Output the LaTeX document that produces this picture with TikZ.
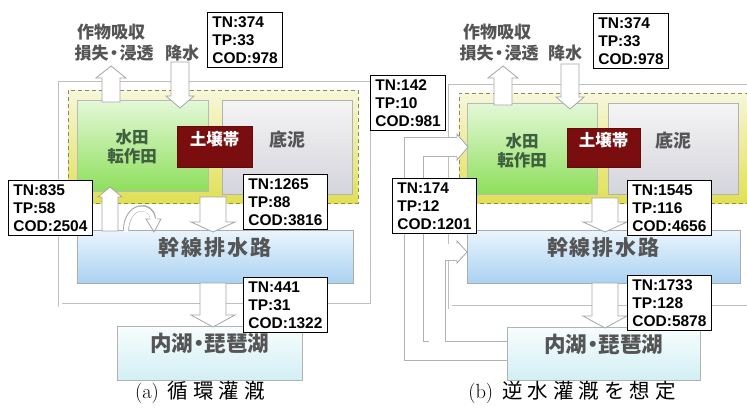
\documentclass[tikz,border=0pt]{standalone}
\usepackage{fontspec}
\newfontfamily\lsans{Liberation Sans}
\newfontfamily\jp{Noto Sans CJK JP}
\usetikzlibrary{fit}
\definecolor{ylo}{HTML}{F7F7DC}
\definecolor{yhi}{HTML}{E0E055}
\definecolor{gtop}{HTML}{E4F8D8}
\definecolor{gbot}{HTML}{8EDF5C}
\definecolor{stop}{HTML}{F5F5F5}
\definecolor{sbot}{HTML}{D4D4DC}
\definecolor{btop}{HTML}{EBF5FD}
\definecolor{bbot}{HTML}{AAD2F2}
\definecolor{ltop}{HTML}{F8FDFD}
\definecolor{lbot}{HTML}{D2EFF4}
\definecolor{soilred}{HTML}{7A0E0E}
\definecolor{txtgray}{HTML}{555555}
\definecolor{txtgreen}{HTML}{3F5F3F}
\newcommand{\blkarrow}[6]{%
  \pgfmathsetmacro{\bhb}{#3-sign(#3-#2)*#6}%
  \filldraw[barrow] (#1-#4,#2) -- (#1-#4,\bhb) -- (#1-#5,\bhb) -- (#1,#3) -- (#1+#5,\bhb) -- (#1+#4,\bhb) -- (#1+#4,#2) -- cycle;}
\begin{document}
\begin{tikzpicture}[x=1pt,y=-1pt,
  tnbox/.style={draw=black, line width=0.8pt, fill=white, align=left, anchor=north west,
    inner xsep=5pt, inner ysep=4pt, font=\lsans\bfseries\fontsize{15.5}{18}\selectfont},
  frame/.style={draw=gray!50, double=white, double distance=3pt, line width=0.7pt},
  yreg/.style={draw=gray!55!olive, dash pattern=on 4pt off 3pt, line width=1pt, top color=ylo, bottom color=yhi, inner sep=0pt},
  greenbox/.style={draw=gray!55, line width=0.8pt, top color=gtop, bottom color=gbot, inner sep=0pt},
  sedbox/.style={draw=gray!60, line width=0.8pt, top color=stop, bottom color=sbot, inner sep=0pt, text=txtgray, font=\jp\bfseries\fontsize{18}{20}\selectfont},
  soilbox/.style={draw=soilred!80!black, line width=0.6pt, fill=soilred, inner sep=0pt, text=white, font=\jp\bfseries\fontsize{16.5}{18}\selectfont},
  canalbox/.style={draw=gray!65, line width=0.8pt, top color=btop, bottom color=bbot, inner sep=0pt, text=txtgray, font=\jp\bfseries\fontsize{21}{24}\selectfont},
  lakebox/.style={draw=gray!60, line width=0.8pt, top color=ltop, bottom color=lbot, inner sep=0pt, text=txtgray, font=\jp\bfseries\fontsize{21.5}{24}\selectfont},
  toplab/.style={text=txtgray, font=\jp\bfseries\fontsize{17}{18}\selectfont, inner sep=0pt},
  fieldlab/.style={text=txtgreen, font=\jp\bfseries\fontsize{16.5}{18}\selectfont, inner sep=0pt},
  barrow/.style={draw=gray!70, fill=white, line width=0.8pt, line join=miter},
  pipeout/.style={draw=gray!60, line width=20pt, line join=miter},
  pipein/.style={draw=white, line width=18.4pt, line join=miter},
  pipeoutb/.style={draw=gray!60, line width=17pt, line join=miter},
  pipeinb/.style={draw=white, line width=15.4pt, line join=miter},
  caption/.style={font=\fontsize{20.5}{23}\selectfont, inner sep=0pt, text=black}
]
\useasboundingbox (0,0) rectangle (747,410);
\fill[white] (0,0) rectangle (747,410);

% ================= (a) =================
\draw[frame] (60,83) rectangle (372,305);
\node[yreg, fit={(68,90) (358,203)}] (ya) {};
\node[greenbox, fit={(77,100) (208,191)}] (ga) {};
\node[sedbox, fit={(222,100) (352,194)}] (sa) {底泥};
\node[soilbox, fit={(177,126) (252,167)}] (ra) {土壌帯};
\node[fieldlab] (fa1) at (132,137) {水田};
\node[fieldlab] (fa2) at (132,156) {転作田};
\node[canalbox, fit={(77,230) (353,283)}] (ca) {幹\kern2pt 線\kern2pt 排\kern2pt 水\kern2pt 路};
\node[lakebox, fit={(117,326) (302,380)}] (la) {内湖\kern-5pt・\kern-5pt 琵琶湖};

\node[toplab] (uta) at (111,32) {作物吸収};
\node[toplab] (ula) at (114,53) {損失\kern-3pt・\kern-3pt 浸透};
\node[toplab] (rna) at (182,53) {降水};

% block arrows (a)
\blkarrow{111}{102}{66}{9}{15}{12}
\blkarrow{180}{62}{108}{9}{14}{12}
\blkarrow{213}{197}{232}{13}{22}{10}
\blkarrow{213}{283}{327}{13}{22}{12}
\blkarrow{110}{231}{187}{8}{12}{10}
% curved return arrow (a)
\draw[draw=gray!70, line width=6pt] (126,231) .. controls (126,204) and (152,202) .. (153,219);
\draw[draw=white, line width=4.4pt] (126,232) .. controls (126,204) and (152,202) .. (153,221);
\fill[white] (147,219) -- (160,219) -- (154,231) -- cycle;
\draw[gray!70, line width=0.8pt] (150,219) -- (146,219) -- (154,232) -- (161,219) -- (157,219);

\node[tnbox] (a374) at (207,12) {TN:374\\TP:33\\COD:978};
\node[tnbox] (a835) at (8,180) {TN:835\\TP:58\\COD:2504};
\node[tnbox] (a1265) at (243,174) {TN:1265\\TP:88\\COD:3816};
\node[tnbox] (a441) at (243,277) {TN:441\\TP:31\\COD:1322};

\node[caption] (capa) at (200,392) {(a)\hspace{9pt}{\jp 循\hspace{5pt}環\hspace{5pt}灌\hspace{5pt}漑}};

% ================= (b) =================
\draw[frame] (760,86) -| (450,307) -- (760,307);
\node[yreg, fit={(459,93) (752,203)}] (yb) {};
\node[greenbox, fit={(467,103) (597,194)}] (gb) {};
\node[sedbox, fit={(608,103) (738,194)}] (sb) {底泥};
\node[soilbox, fit={(567,128) (640,167)}] (rb) {土壌帯};
\node[fieldlab] (fb1) at (522,141) {水田};
\node[fieldlab] (fb2) at (522,160) {転作田};

% pipes (reverse irrigation)
\draw[pipeout] (507,351) -- (414,351) -- (414,147) -- (457,147);
\draw[pipeoutb] (437,350) -- (437,252) -- (457,252);
\draw[pipein] (508,351) -- (414,351) -- (414,147) -- (457,147);
\draw[pipeinb] (437,350) -- (437,252) -- (457,252);
\fill[white] (457,134) -- (468,147) -- (457,160) -- cycle;
\draw[gray!70, line width=0.8pt] (457,137) -- (457,134) -- (468,147) -- (457,160) -- (457,157);
\fill[white] (457,241) -- (467,252) -- (457,263) -- cycle;
\draw[gray!70, line width=0.8pt] (457,243.5) -- (457,241) -- (467,252) -- (457,263) -- (457,260.5);

\node[canalbox, fit={(467,230) (740,283)}] (cb) {幹\kern2pt 線\kern2pt 排\kern2pt 水\kern2pt 路};
\node[lakebox, fit={(507,327) (700,380)}] (lb) {内湖\kern-5pt・\kern-5pt 琵琶湖};

\node[toplab] (utb) at (497,32) {作物吸収};
\node[toplab] (ulb) at (499,53) {損失\kern-3pt・\kern-3pt 浸透};
\node[toplab] (rnb) at (565,53) {降水};

\blkarrow{503}{105}{66}{9}{15}{12}
\blkarrow{570}{64}{109}{9}{14}{12}
\blkarrow{605}{198}{232}{13}{22}{10}
\blkarrow{605}{283}{328}{13}{22}{12}

\node[tnbox] (b374) at (593,13) {TN:374\\TP:33\\COD:978};
\node[tnbox] (b142) at (370,75) {TN:142\\TP:10\\COD:981};
\node[tnbox] (b174) at (392,178) {TN:174\\TP:12\\COD:1201};
\node[tnbox] (b1545) at (627,180) {TN:1545\\TP:116\\COD:4656};
\node[tnbox] (b1733) at (627,275) {TN:1733\\TP:128\\COD:5878};

\node[caption] (capb) at (572,392) {(b)\hspace{9pt}{\jp 逆\hspace{5pt}水\hspace{5pt}灌\hspace{5pt}漑\hspace{5pt}を\hspace{5pt}想\hspace{5pt}定}};
\end{tikzpicture}
\end{document}
